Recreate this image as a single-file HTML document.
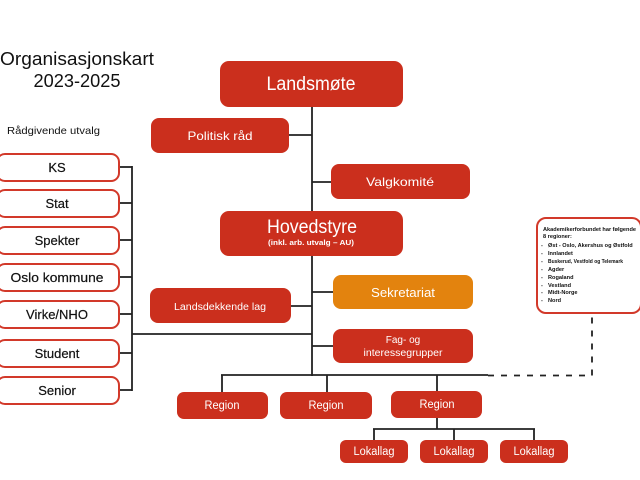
<!DOCTYPE html>
<html><head><meta charset="utf-8"><style>
html,body{margin:0;padding:0;background:#fff;width:640px;height:480px;overflow:hidden}
svg{display:block}
text{font-family:"Liberation Sans",sans-serif}
</style></head><body>
<svg width="640" height="480" viewBox="0 0 640 480" xmlns="http://www.w3.org/2000/svg">
<g stroke="#222" stroke-width="1.8" fill="none">
<line x1="312" y1="106" x2="312" y2="376"/>
<line x1="289" y1="135" x2="312" y2="135"/>
<line x1="312" y1="182" x2="331" y2="182"/>
<line x1="312" y1="292" x2="333" y2="292"/>
<line x1="312" y1="346" x2="333" y2="346"/>
<line x1="291" y1="306" x2="312" y2="306"/>
<line x1="132" y1="334" x2="312" y2="334"/>
<line x1="132" y1="166" x2="132" y2="391"/>
<line x1="119" y1="167" x2="132" y2="167"/>
<line x1="119" y1="203" x2="132" y2="203"/>
<line x1="119" y1="240" x2="132" y2="240"/>
<line x1="119" y1="277" x2="132" y2="277"/>
<line x1="119" y1="314" x2="132" y2="314"/>
<line x1="119" y1="353" x2="132" y2="353"/>
<line x1="119" y1="390" x2="132" y2="390"/>
<line x1="221" y1="375" x2="488" y2="375"/>
<line x1="222" y1="375" x2="222" y2="392"/>
<line x1="327" y1="375" x2="327" y2="392"/>
<line x1="437" y1="375" x2="437" y2="392"/>
<line x1="437" y1="418" x2="437" y2="429"/>
<line x1="373" y1="429" x2="535" y2="429"/>
<line x1="374" y1="429" x2="374" y2="440"/>
<line x1="454" y1="429" x2="454" y2="440"/>
<line x1="534" y1="429" x2="534" y2="440"/>
<path d="M488 375.5 H592 V314" stroke-dasharray="6 7"/>
</g>

<text x="77" y="65" font-size="18" text-anchor="middle" fill="#111" textLength="154" lengthAdjust="spacingAndGlyphs">Organisasjonskart</text>
<text x="77" y="87" font-size="18" text-anchor="middle" fill="#111" textLength="87" lengthAdjust="spacingAndGlyphs">2023-2025</text>
<text x="7" y="134" font-size="10.5" fill="#111" textLength="93" lengthAdjust="spacingAndGlyphs">Rådgivende utvalg</text>

<g fill="#fff" stroke="#D2392A" stroke-width="2">
<rect x="-3" y="154" width="122" height="27" rx="8"/>
<rect x="-3" y="190" width="122" height="27" rx="8"/>
<rect x="-3" y="227" width="122" height="27" rx="8"/>
<rect x="-3" y="264" width="122" height="27" rx="8"/>
<rect x="-3" y="301" width="122" height="27" rx="8"/>
<rect x="-3" y="340" width="122" height="27" rx="8"/>
<rect x="-3" y="377" width="122" height="27" rx="8"/>
</g>
<g font-size="13" fill="#111" text-anchor="middle" stroke="#111" stroke-width="0.2">
<text x="57" y="172">KS</text>
<text x="57" y="208">Stat</text>
<text x="57" y="245">Spekter</text>
<text x="57" y="282" textLength="93" lengthAdjust="spacingAndGlyphs">Oslo kommune</text>
<text x="57" y="319">Virke/NHO</text>
<text x="57" y="358">Student</text>
<text x="57" y="395">Senior</text>
</g>

<g fill="#CB2F1D">
<rect x="220" y="61" width="183" height="46" rx="9"/>
<rect x="151" y="118" width="138" height="35" rx="8"/>
<rect x="331" y="164" width="139" height="35" rx="8"/>
<rect x="220" y="211" width="183" height="45" rx="9"/>
<rect x="150" y="288" width="141" height="35" rx="8"/>
<rect x="333" y="329" width="140" height="34" rx="8"/>
<rect x="177" y="392" width="91" height="27" rx="7"/>
<rect x="280" y="392" width="92" height="27" rx="7"/>
<rect x="391" y="391" width="91" height="27" rx="7"/>
<rect x="340" y="440" width="68" height="23" rx="6"/>
<rect x="420" y="440" width="68" height="23" rx="6"/>
<rect x="500" y="440" width="68" height="23" rx="6"/>
</g>
<rect x="333" y="275" width="140" height="34" rx="8" fill="#E3830E"/>

<g fill="#fff" text-anchor="middle">
<text x="311" y="90" font-size="19" textLength="89" lengthAdjust="spacingAndGlyphs">Landsmøte</text>
<text x="220" y="140" font-size="12" textLength="65" lengthAdjust="spacingAndGlyphs">Politisk råd</text>
<text x="400" y="186" font-size="12" textLength="68" lengthAdjust="spacingAndGlyphs">Valgkomité</text>
<text x="312" y="233" font-size="19" textLength="90" lengthAdjust="spacingAndGlyphs">Hovedstyre</text>
<text x="311" y="245" font-size="7.5" font-weight="bold" textLength="86" lengthAdjust="spacingAndGlyphs">(inkl. arb. utvalg – AU)</text>
<text x="403" y="297" font-size="13" textLength="64" lengthAdjust="spacingAndGlyphs">Sekretariat</text>
<text x="220" y="310" font-size="10" textLength="92" lengthAdjust="spacingAndGlyphs">Landsdekkende lag</text>
<text x="403" y="343" font-size="10">Fag- og</text>
<text x="403" y="356" font-size="10" textLength="79" lengthAdjust="spacingAndGlyphs">interessegrupper</text>
<text x="222" y="409" font-size="11.5" textLength="35" lengthAdjust="spacingAndGlyphs">Region</text>
<text x="326" y="409" font-size="11.5" textLength="35" lengthAdjust="spacingAndGlyphs">Region</text>
<text x="437" y="408" font-size="11.5" textLength="35" lengthAdjust="spacingAndGlyphs">Region</text>
<text x="374" y="455" font-size="11.5" textLength="41" lengthAdjust="spacingAndGlyphs">Lokallag</text>
<text x="454" y="455" font-size="11.5" textLength="41" lengthAdjust="spacingAndGlyphs">Lokallag</text>
<text x="534" y="455" font-size="11.5" textLength="41" lengthAdjust="spacingAndGlyphs">Lokallag</text>
</g>

<rect x="537" y="218" width="104" height="95" rx="9" fill="#fff" stroke="#D2392A" stroke-width="2"/>
<g font-size="5.6" fill="#111" font-weight="bold">
<text x="543" y="231" textLength="93" lengthAdjust="spacingAndGlyphs">Akademikerforbundet har følgende</text>
<text x="543" y="238">8 regioner:</text>
<text x="541" y="247">-</text><text x="548" y="247">Øst - Oslo, Akershus og Østfold</text>
<text x="541" y="255">-</text><text x="548" y="255">Innlandet</text>
<text x="541" y="263">-</text><text x="548" y="263" textLength="75" lengthAdjust="spacingAndGlyphs">Buskerud, Vestfold og Telemark</text>
<text x="541" y="271">-</text><text x="548" y="271">Agder</text>
<text x="541" y="279">-</text><text x="548" y="279">Rogaland</text>
<text x="541" y="287">-</text><text x="548" y="287">Vestland</text>
<text x="541" y="294">-</text><text x="548" y="294">Midt-Norge</text>
<text x="541" y="302">-</text><text x="548" y="302">Nord</text>
</g>
</svg>
</body></html>
